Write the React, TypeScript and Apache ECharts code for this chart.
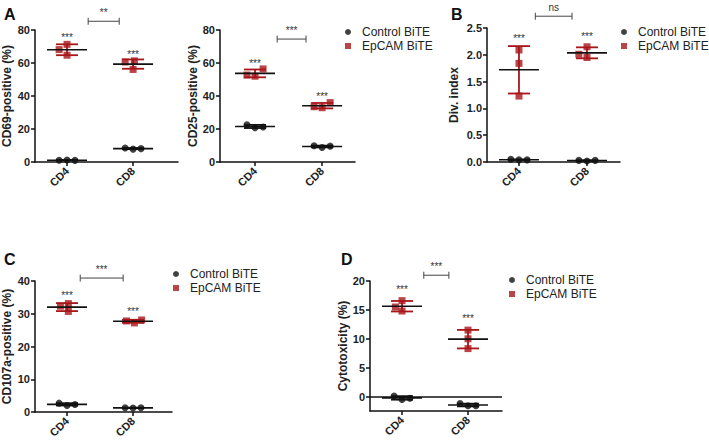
import React, { useEffect, useRef } from "react";
import * as echarts from "echarts";

const FONT = '"Liberation Sans", Arial, Helvetica, sans-serif';
const RED = "#A8161A";
const BLACK = "#111111";
const GREY = "#444444";

const categories = ["CD4", "CD8"];
const seriesNames = ["Control BiTE", "EpCAM BiTE"];

// Panel A (left): CD69-positive (%)
const cd69Control = [[1.1, 1.2, 1.0], [8.5, 7.8, 8.1]];
const cd69EpCAM = [[68.1, 71.3, 64.7], [60.6, 61.3, 56.1]];
const cd69Stars = [76.5, 66.5];
const cd69Bracket = [1.32, 1.79, 85.3]; // [from, to, level]
const cd69BracketLabel = "**";
const cd69CtrlJitter = [[-0.12, 0, 0.12], [-0.12, 0, 0.12]];
const cd69EpJitter = [[-0.12, 0, 0], [-0.12, 0.02, 0]];

// Panel A (right): CD25-positive (%)
const cd25Control = [[22.6, 20.8, 21.2], [9.8, 8.8, 9.6]];
const cd25EpCAM = [[52.7, 52.0, 56.4], [33.5, 32.9, 36.0]];
const cd25Stars = [61, 41];
const cd25Bracket = [1.33, 1.76, 74.5];
const cd25BracketLabel = "***";
const cd25CtrlJitter = [[-0.12, 0, 0.12], [-0.12, 0, 0.12]];
const cd25EpJitter = [[-0.12, 0, 0.12], [-0.12, 0, 0.12]];

// Panel B: Div. index
const divControl = [[0.05, 0.04, 0.04], [0.03, 0.02, 0.03]];
const divEpCAM = [[2.09, 1.84, 1.23], [2.01, 2.15, 1.95]];
const divStars = [2.35, 2.37];
const divBracket = [1.24, 1.78, 2.72];
const divBracketLabel = "ns";
const divCtrlJitter = [[-0.12, 0, 0.12], [-0.12, 0, 0.12]];
const divEpJitter = [[0, 0, 0], [-0.12, 0, 0]];

// Panel C: CD107a-positive (%)
const cd107Control = [[2.7, 2.0, 2.3], [1.3, 1.2, 1.3]];
const cd107EpCAM = [[32.3, 33.1, 30.7], [27.8, 27.2, 28.1]];
const cd107Stars = [36.2, 31.3];
const cd107Bracket = [1.2, 1.85, 40.9];
const cd107BracketLabel = "***";
const cd107CtrlJitter = [[-0.12, 0, 0.12], [-0.12, 0, 0.12]];
const cd107EpJitter = [[-0.1, 0.02, 0.02], [-0.1, 0.02, 0.13]];

// Panel D: Cytotoxicity (%)
const cytoControl = [[0.1, -0.5, -0.3], [-1.2, -1.6, -1.6]];
const cytoEpCAM = [[15.5, 16.6, 14.8], [11.5, 10.0, 8.3]];
const cytoStars = [18.9, 13.9];
const cytoBracket = [1.33, 1.71, 21];
const cytoBracketLabel = "***";
const cytoCtrlJitter = [[-0.12, 0, 0.12], [-0.12, 0, 0.12]];
const cytoEpJitter = [[-0.1, 0, 0], [0, 0, 0]];

const panels = [
  {
    title: "CD69-positive (%)", control: cd69Control, epcam: cd69EpCAM, stars: cd69Stars,
    bracket: cd69Bracket, bracketLabel: cd69BracketLabel, cj: cd69CtrlJitter, ej: cd69EpJitter,
    yMin: 0, yMax: 80, yInterval: 20, dec: 0,
    grid: { left: 35, top: 30, width: 143, height: 132 }, xMin: 0.515, xMax: 2.68, nameGap: 22,
    legend: null as null | { left: number; top: number },
  },
  {
    title: "CD25-positive (%)", control: cd25Control, epcam: cd25EpCAM, stars: cd25Stars,
    bracket: cd25Bracket, bracketLabel: cd25BracketLabel, cj: cd25CtrlJitter, ej: cd25EpJitter,
    yMin: 0, yMax: 80, yInterval: 20, dec: 0,
    grid: { left: 220, top: 30, width: 135, height: 132 }, xMin: 0.478, xMax: 2.49, nameGap: 20,
    legend: { left: 345, top: 26 },
  },
  {
    title: "Div. index", control: divControl, epcam: divEpCAM, stars: divStars,
    bracket: divBracket, bracketLabel: divBracketLabel, cj: divCtrlJitter, ej: divEpJitter,
    yMin: 0, yMax: 2.5, yInterval: 0.5, dec: 1,
    grid: { left: 487, top: 28, width: 133, height: 134 }, xMin: 0.53, xMax: 2.485, nameGap: 27,
    legend: { left: 621, top: 26 },
  },
  {
    title: "CD107a-positive (%)", control: cd107Control, epcam: cd107EpCAM, stars: cd107Stars,
    bracket: cd107Bracket, bracketLabel: cd107BracketLabel, cj: cd107CtrlJitter, ej: cd107EpJitter,
    yMin: 0, yMax: 40, yInterval: 10, dec: 0,
    grid: { left: 35, top: 281, width: 137, height: 131 }, xMin: 0.515, xMax: 2.59, nameGap: 22,
    legend: { left: 173, top: 268 },
  },
  {
    title: "Cytotoxicity (%)", control: cytoControl, epcam: cytoEpCAM, stars: cytoStars,
    bracket: cytoBracket, bracketLabel: cytoBracketLabel, cj: cytoCtrlJitter, ej: cytoEpJitter,
    yMin: -2.5, yMax: 20, yInterval: 5, dec: 0,
    grid: { left: 370, top: 281, width: 132, height: 130 }, xMin: 0.515, xMax: 2.515, nameGap: 20,
    legend: { left: 509, top: 274 },
  },
];

const letters = [
  { text: "A", x: 4, y: 6 },
  { text: "B", x: 451, y: 6 },
  { text: "C", x: 4, y: 251 },
  { text: "D", x: 341, y: 251 },
];

function mean(a: number[]) {
  return a.reduce((s, v) => s + v, 0) / a.length;
}
function sd(a: number[]) {
  const m = mean(a);
  return Math.sqrt(a.reduce((s, v) => s + (v - m) * (v - m), 0) / (a.length - 1));
}

function summaryRender(color: string) {
  return (params: any, api: any) => {
    const x = api.value(0);
    const m = api.value(1);
    const s = api.value(2);
    const pm = api.coord([x, m]);
    const pt = api.coord([x, m + s]);
    const pb = api.coord([x, m - s]);
    const capHalf = 11;
    return {
      type: "group",
      children: [
        { type: "line", shape: { x1: pt[0], y1: pt[1], x2: pb[0], y2: pb[1] }, style: { stroke: color, lineWidth: 1.8 } },
        { type: "line", shape: { x1: pt[0] - capHalf, y1: pt[1], x2: pt[0] + capHalf, y2: pt[1] }, style: { stroke: color, lineWidth: 1.8 } },
        { type: "line", shape: { x1: pb[0] - capHalf, y1: pb[1], x2: pb[0] + capHalf, y2: pb[1] }, style: { stroke: color, lineWidth: 1.8 } },
        { type: "line", shape: { x1: pm[0] - 20, y1: pm[1], x2: pm[0] + 20, y2: pm[1] }, style: { stroke: BLACK, lineWidth: 1.6 } },
      ],
    };
  };
}

function bracketRender(label: string) {
  return (params: any, api: any) => {
    const x1 = api.value(0);
    const x2 = api.value(1);
    const lvl = api.value(2);
    const a = api.coord([x1, lvl]);
    const b = api.coord([x2, lvl]);
    return {
      type: "group",
      children: [
        { type: "line", shape: { x1: a[0], y1: a[1], x2: b[0], y2: b[1] }, style: { stroke: GREY, lineWidth: 1 } },
        { type: "line", shape: { x1: a[0], y1: a[1] - 3.5, x2: a[0], y2: a[1] + 3.5 }, style: { stroke: GREY, lineWidth: 1 } },
        { type: "line", shape: { x1: b[0], y1: b[1] - 3.5, x2: b[0], y2: b[1] + 3.5 }, style: { stroke: GREY, lineWidth: 1 } },
        {
          type: "text",
          x: (a[0] + b[0]) / 2,
          y: a[1] - 4,
          style: { text: label, fill: "#333", font: `10px ${FONT}`, textAlign: "center", textVerticalAlign: "bottom" },
        },
      ],
    };
  };
}

function starsRender(params: any, api: any) {
  const p = api.coord([api.value(0), api.value(1)]);
  return {
    type: "text",
    x: p[0],
    y: p[1] + 2,
    style: { text: "***", fill: "#333", font: `10px ${FONT}`, textAlign: "center", textVerticalAlign: "middle" },
  };
}

function buildOption() {
  const grids: any[] = [];
  const xAxes: any[] = [];
  const yAxes: any[] = [];
  const series: any[] = [];
  const legends: any[] = [];

  panels.forEach((p, gi) => {
    grids.push({ ...p.grid, containLabel: false });
    xAxes.push({
      type: "value",
      gridIndex: gi,
      min: p.xMin,
      max: p.xMax,
      splitLine: { show: false },
      axisLine: { show: true, onZero: false, lineStyle: { color: BLACK, width: 1.5 } },
      axisTick: { show: true, customValues: [1, 2], length: 4, lineStyle: { color: BLACK, width: 1.5 } },
      axisLabel: {
        customValues: [1, 2],
        rotate: 45,
        margin: 7,
        color: "#222",
        fontSize: 11,
        fontWeight: "bold",
        fontFamily: FONT,
        formatter: (v: number) => categories[Math.round(v) - 1] ?? "",
      },
    });
    const yAxis: any = {
      type: "value",
      gridIndex: gi,
      min: p.yMin,
      max: p.yMax,
      name: p.title,
      nameLocation: "middle",
      nameGap: p.nameGap,
      nameTextStyle: { color: "#222", fontSize: 12, fontWeight: "bold", fontFamily: FONT },
      splitLine: { show: false },
      axisLine: { show: true, onZero: false, lineStyle: { color: BLACK, width: 1.5 } },
      axisTick: { show: true, length: 4, lineStyle: { color: BLACK, width: 1.5 } },
      axisLabel: {
        color: "#222",
        fontSize: 11,
        fontWeight: "bold",
        fontFamily: FONT,
        margin: 5,
        formatter: (v: number) => v.toFixed(p.dec),
      },
    };
    if (p.yMin < 0) {
      const vals: number[] = [];
      for (let v = 0; v <= p.yMax + 1e-9; v += p.yInterval) vals.push(v);
      yAxis.axisLabel.customValues = vals;
      yAxis.axisTick.customValues = vals;
    } else {
      yAxis.interval = p.yInterval;
    }
    yAxes.push(yAxis);

    const ctrlPts: number[][] = [];
    const epPts: number[][] = [];
    p.control.forEach((vals, ci) => vals.forEach((v, k) => ctrlPts.push([ci + 1 + p.cj[ci][k], v])));
    p.epcam.forEach((vals, ci) => vals.forEach((v, k) => epPts.push([ci + 1 + p.ej[ci][k], v])));

    const ctrlSeries: any = {
      name: seriesNames[0],
      type: "scatter",
      xAxisIndex: gi,
      yAxisIndex: gi,
      symbol: "circle",
      symbolSize: 7,
      itemStyle: { color: BLACK },
      data: ctrlPts,
      z: 2,
    };
    if (p.yMin < 0) {
      ctrlSeries.markLine = {
        silent: true,
        symbol: "none",
        label: { show: false },
        lineStyle: { color: BLACK, width: 1.5, type: "solid" },
        data: [{ yAxis: 0 }],
      };
    }
    series.push(ctrlSeries);
    series.push({
      name: seriesNames[1],
      type: "scatter",
      xAxisIndex: gi,
      yAxisIndex: gi,
      symbol: "rect",
      symbolSize: 7,
      itemStyle: { color: RED },
      data: epPts,
      z: 2,
    });
    series.push({
      type: "custom",
      name: "ctrl-summary",
      xAxisIndex: gi,
      yAxisIndex: gi,
      renderItem: summaryRender(BLACK),
      data: p.control.map((vals, ci) => [ci + 1, mean(vals), sd(vals)]),
      z: 3,
      silent: true,
    });
    series.push({
      type: "custom",
      name: "ep-summary",
      xAxisIndex: gi,
      yAxisIndex: gi,
      renderItem: summaryRender(RED),
      data: p.epcam.map((vals, ci) => [ci + 1, mean(vals), sd(vals)]),
      z: 3,
      silent: true,
    });
    series.push({
      type: "custom",
      name: "stars",
      xAxisIndex: gi,
      yAxisIndex: gi,
      renderItem: starsRender,
      data: p.stars.map((v, ci) => [ci + 1, v]),
      z: 4,
      silent: true,
    });
    series.push({
      type: "custom",
      name: "bracket",
      xAxisIndex: gi,
      yAxisIndex: gi,
      renderItem: bracketRender(p.bracketLabel),
      encode: { x: [0, 1], y: 2 },
      data: [p.bracket],
      z: 4,
      silent: true,
    });

    if (p.legend) {
      legends.push({
        left: p.legend.left,
        top: p.legend.top,
        orient: "vertical",
        padding: 0,
        itemWidth: 6,
        itemHeight: 6,
        itemGap: 2,
        selectedMode: false,
        textStyle: { color: "#222", fontSize: 12, fontFamily: FONT, padding: [0, 0, 0, 6] },
        data: [
          { name: seriesNames[0], icon: "circle" },
          { name: seriesNames[1], icon: "rect" },
        ],
      });
    }
  });

  return {
    animation: false,
    backgroundColor: "#ffffff",
    grid: grids,
    xAxis: xAxes,
    yAxis: yAxes,
    legend: legends,
    graphic: letters.map((l) => ({
      type: "text",
      left: l.x,
      top: l.y,
      style: { text: l.text, fill: "#111", font: `bold 16px ${FONT}` },
    })),
    series,
  };
}

export default function App() {
  const ref = useRef<HTMLDivElement>(null);
  useEffect(() => {
    if (!ref.current) return;
    const chart = echarts.init(ref.current, undefined, { renderer: "svg" });
    chart.setOption(buildOption() as any);
    return () => chart.dispose();
  }, []);
  return (
    <div
      ref={ref}
      style={{ position: "absolute", left: 0, top: 0, width: 709, height: 443, background: "#fff" }}
    />
  );
}
